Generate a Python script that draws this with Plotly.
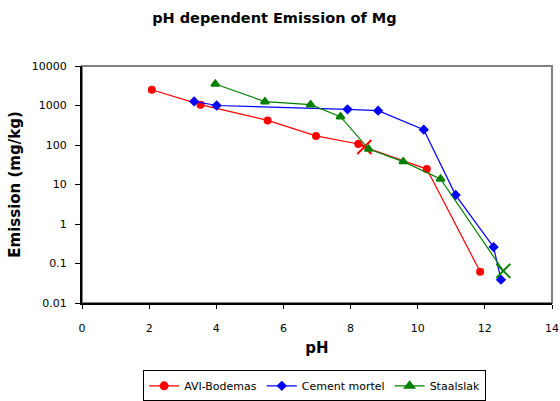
import plotly.graph_objects as go

# pH values and Mg emission (mg/kg) per material
avi_ph = [2.08, 3.53, 5.53, 6.97, 8.23, 8.41, 10.27, 11.86]
avi_em = [2500, 1050, 420, 170, 106, 89, 24.6, 0.062]

cement_ph = [3.34, 4.01, 7.91, 8.82, 10.18, 11.13, 12.26, 12.48]
cement_em = [1270, 1000, 800, 740, 245, 5.4, 0.26, 0.039]

staal_ph = [3.97, 5.45, 6.81, 7.70, 8.54, 9.57, 10.68, 12.55]
staal_em = [3500, 1250, 1050, 520, 79, 38, 13.8, 0.065]

y_ticks = [10000, 1000, 100, 10, 1, 0.1, 0.01]
y_tick_labels = ["10000", "1000", "100", "10", "1", "0.1", "0.01"]

FONT = "DejaVu Sans"

fig = go.Figure()

# Red series: one point drawn with an X marker
avi_sym = ["circle"] * len(avi_ph)
avi_sym[5] = "x-thin-open"
avi_size = [6] * len(avi_ph)
avi_size[5] = 14
fig.add_trace(go.Scatter(
    x=avi_ph, y=avi_em, name="AVI-Bodemas", mode="lines+markers",
    line=dict(color="#FF0000", width=1.2),
    marker=dict(symbol=avi_sym, size=avi_size, color="#FF0000", opacity=1,
                line=dict(color="#FF0000", width=2)),
))

fig.add_trace(go.Scatter(
    x=cement_ph, y=cement_em, name="Cement mortel", mode="lines+markers",
    line=dict(color="#0000FF", width=1.2),
    marker=dict(symbol="diamond", size=8, color="#0000FF", opacity=1,
                line=dict(color="#0000FF", width=0)),
))

staal_sym = ["triangle-up"] * len(staal_ph)
staal_sym[-1] = "x-thin-open"
staal_size = [7] * len(staal_ph)
staal_size[-1] = 14
fig.add_trace(go.Scatter(
    x=staal_ph, y=staal_em, name="Staalslak", mode="lines+markers",
    line=dict(color="#008000", width=1.2),
    marker=dict(symbol=staal_sym, size=staal_size, color="#008000", opacity=1,
                line=dict(color="#008000", width=2)),
))

# gray plot-area frame
fig.add_shape(type="rect", xref="paper", yref="paper", x0=0, y0=0, x1=1, y1=1,
              line=dict(color="#808080", width=2), layer="below")

fig.update_layout(
    width=560, height=401,
    margin=dict(l=82, r=8, t=66, b=98, autoexpand=False),
    paper_bgcolor="white", plot_bgcolor="white",
    font=dict(family=FONT, size=11, color="black"),
    title=dict(text="<b>pH dependent Emission of Mg</b>", x=0.49, xanchor="center",
               y=0.955, yanchor="middle", font=dict(family=FONT, size=14.5)),
    showlegend=True,
    legend=dict(orientation="h", x=0.495, xanchor="center", y=-0.415, yanchor="bottom",
                bordercolor="black", borderwidth=1, font=dict(family=FONT, size=11),
                itemwidth=30, tracegroupgap=0),
)

fig.update_xaxes(
    range=[0, 14], tickvals=list(range(0, 15, 2)), showgrid=False, zeroline=False,
    showline=True, linecolor="black", linewidth=2, ticks="outside", ticklen=4,
    tickcolor="black", tickfont=dict(family=FONT, size=11), ticklabelstandoff=10,
    title=dict(text="<b>pH</b>", font=dict(family=FONT, size=15), standoff=8),
)
fig.update_yaxes(
    type="log", range=[-2, 4], tickvals=y_ticks, ticktext=y_tick_labels,
    showgrid=False, zeroline=False, showline=True, linecolor="black", linewidth=2,
    ticks="outside", ticklen=5, tickcolor="black", tickfont=dict(family=FONT, size=11),
    ticklabelstandoff=6,
    title=dict(text="<b>Emission (mg/kg)</b>", font=dict(family=FONT, size=15), standoff=8),
)

fig.write_html("out.html")
